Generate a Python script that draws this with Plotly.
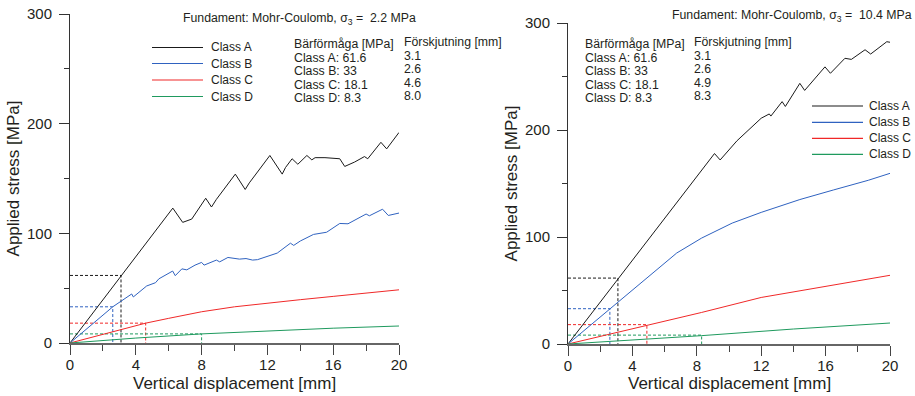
import plotly.graph_objects as go

W, H = 915, 396

classes = ["Class A", "Class B", "Class C", "Class D"]
colors = ["#1a1a1a", "#2f62c0", "#f02828", "#1f9a5e"]

# Left panel (sigma3 = 2.2 MPa)
L_A_x = [0, 6.25, 6.85, 7.2, 7.4, 8.25, 8.6, 8.9, 10.05, 10.65, 10.9, 12.15, 12.9, 13.1, 13.5, 13.85,
         14.4, 14.7, 14.9, 15.5, 16.0, 16.4, 16.7, 17.3, 17.9, 18.1, 18.9, 19.25, 20]
L_A_y = [0, 123, 110, 112, 113, 132, 124, 131, 154, 140, 146, 171, 154, 160, 168, 163,
         171, 167, 169, 169, 168.5, 168, 161, 165, 170, 168, 183, 177, 192]
L_B_x = [0, 2.6, 3.75, 3.85, 4.66, 5.2, 5.4, 6.24, 6.4, 6.8, 7.1, 7.6, 8.0, 8.15, 8.9, 9.1, 9.6, 10.3,
         10.7, 11.1, 11.4, 11.95, 12.6, 13.4, 13.6, 14.0, 14.8, 15.6, 16.4, 16.9, 17.3, 18.0, 18.2,
         18.85, 19.0, 19.35, 20]
L_B_y = [0, 33, 44.7, 42, 52, 55, 58.5, 65.6, 61.4, 67.6, 66.7, 71, 73.5, 71, 75.6, 74, 78, 76.5,
         77, 75.6, 76, 79, 82, 91, 89, 93, 99, 101, 109, 108.7, 111.7, 117.6, 116,
         120.6, 122, 116.3, 118.5]
L_C_x = [0, 2, 4, 4.6, 6, 8, 10, 12, 14, 16, 18, 20]
L_C_y = [0, 7.8, 15.6, 18.1, 22.5, 28.5, 33, 36.5, 39.5, 42.5, 45.5, 48.5]
L_D_x = [0, 4, 8, 12, 16, 20]
L_D_y = [0, 4.5, 8.3, 11, 13.5, 15.5]
L_cap = [61.6, 33, 18.1, 8.3]
L_disp = [3.1, 2.6, 4.6, 8.0]
L_disp_lbl = ["3.1", "2.6", "4.6", "8.0"]

# Right panel (sigma3 = 10.4 MPa)
R_A_x = [0, 9.1, 9.45, 10.5, 12.0, 12.5, 12.6, 13.3, 13.5, 14.4, 14.7, 15.96, 16.3, 17.2, 17.6,
         18.45, 18.8, 19.8, 20]
R_A_y = [0, 178, 172, 190, 211, 215, 213, 226.5, 222, 243.6, 237, 259, 253, 267, 266,
         275, 271, 282.5, 282]
R_B_x = [0, 6.75, 8.3, 10.2, 12, 14.4, 16.5, 18.65, 20]
R_B_y = [0, 85, 99, 113, 123, 135, 144, 153, 159.5]
R_C_x = [0, 4.9, 8.3, 12, 16, 20]
R_C_y = [0, 17.5, 29.5, 43.5, 54, 64.2]
R_D_x = [0, 8.3, 14, 20]
R_D_y = [0, 7.8, 14, 19.6]
R_cap = [61.6, 33, 18.1, 8.3]
R_disp = [3.1, 2.6, 4.9, 8.3]
R_disp_lbl = ["3.1", "2.6", "4.9", "8.3"]

sigma_L = "2.2"
sigma_R = "10.4"

FONT = "Arial, Liberation Sans, sans-serif"
TXT = "#231f20"

fig = go.Figure()

panels = [
    ("x", "y", [(L_A_x, L_A_y), (L_B_x, L_B_y), (L_C_x, L_C_y), (L_D_x, L_D_y)], L_cap, L_disp),
    ("x2", "y2", [(R_A_x, R_A_y), (R_B_x, R_B_y), (R_C_x, R_C_y), (R_D_x, R_D_y)], R_cap, R_disp),
]
for xa, ya, series, caps, disps in panels:
    for i in range(4):
        fig.add_trace(go.Scatter(x=[0, disps[i], disps[i]], y=[caps[i], caps[i], 0], mode="lines",
                                 line=dict(color=colors[i], width=1, dash="3px,2px"),
                                 xaxis=xa, yaxis=ya, showlegend=False, hoverinfo="skip"))
    for i, (sx, sy) in enumerate(series):
        fig.add_trace(go.Scatter(x=sx, y=sy, mode="lines", name=classes[i],
                                 line=dict(color=colors[i], width=1),
                                 xaxis=xa, yaxis=ya, showlegend=False))


def px(xp):
    return xp / W


def py(yp):
    return 1 - yp / H


axis_common = dict(range=[0, 20], tickvals=[0, 4, 8, 12, 16, 20], ticks="outside", ticklen=10,
                   tickcolor="#444", showline=True, linecolor="#666", linewidth=1.5,
                   showgrid=False, zeroline=False, tickfont=dict(size=15, family=FONT, color=TXT),
                   minor=dict(dtick=2, ticks="outside", ticklen=6, tickcolor="#444"),
                   ticklabelstandoff=-3, automargin=False)
yaxis_common = dict(range=[0, 300], tickvals=[0, 100, 200, 300], ticks="outside", ticklen=10,
                    tickcolor="#333", showline=True, linecolor="#333", linewidth=1,
                    showgrid=False, zeroline=False, tickfont=dict(size=15, family=FONT, color=TXT),
                    minor=dict(tickvals=[50, 150, 250], ticks="outside", ticklen=5, tickcolor="#333"),
                    ticklabelstandoff=4, automargin=False,
                    title=dict(text="Applied stress [MPa]", font=dict(size=17, family=FONT, color=TXT),
                               standoff=3))

fig.update_layout(
    width=W, height=H, margin=dict(l=0, r=0, t=0, b=0, autoexpand=False),
    paper_bgcolor="white", plot_bgcolor="white",
    font=dict(family=FONT, color=TXT),
    xaxis=dict(domain=[px(70), px(399)], anchor="y", **axis_common),
    yaxis=dict(domain=[py(343), py(14)], anchor="x", **yaxis_common),
    xaxis2=dict(domain=[px(568), px(890)], anchor="y2", **axis_common),
    yaxis2=dict(domain=[py(344), py(23)], anchor="x2", **yaxis_common),
    showlegend=False,
)

ann = []
shapes = []


def add_text(text, xp, yp, size=12.3, anchor="left"):
    ann.append(dict(text=text, x=px(xp), y=py(yp), xref="paper", yref="paper", showarrow=False,
                    xanchor=anchor, yanchor="middle", font=dict(size=size, family=FONT, color=TXT)))


# x-axis titles
add_text("Vertical displacement [mm]", (70 + 399) / 2, 383, size=17, anchor="center")
add_text("Vertical displacement [mm]", (568 + 890) / 2, 383, size=17, anchor="center")

add_text("Fundament: Mohr-Coulomb, σ<sub>3</sub> =  " + sigma_L + " MPa", 181, 19)
add_text("Fundament: Mohr-Coulomb, σ<sub>3</sub> =  " + sigma_R + " MPa", 670, 16)

for (x0, x1, caps, dl) in [(292, 402, L_cap, L_disp_lbl), (583, 692, R_cap, R_disp_lbl)]:
    add_text("Bärförmåga [MPa]", x0, 44)
    add_text("Förskjutning [mm]", x1, 42)
    for i in range(4):
        cap_txt = ("%g" % caps[i])
        add_text(classes[i] + ": " + cap_txt, x0, 58 + 13.3 * i)
        add_text(dl[i], x1, 56 + 13.3 * i)

# legends (line sample + label)
for (lx0, lx1, tx, rows) in [(152, 203, 209, [47.5, 63.5, 80, 96.5]),
                             (812, 863, 867, [106, 122.3, 138.3, 154.3])]:
    for i in range(4):
        shapes.append(dict(type="line", xref="paper", yref="paper", x0=px(lx0), x1=px(lx1),
                           y0=py(rows[i]), y1=py(rows[i]), line=dict(color=colors[i], width=1.2)))
        add_text(classes[i], tx, rows[i], size=12)

fig.update_layout(annotations=ann, shapes=shapes)
fig.write_html("out.html")
